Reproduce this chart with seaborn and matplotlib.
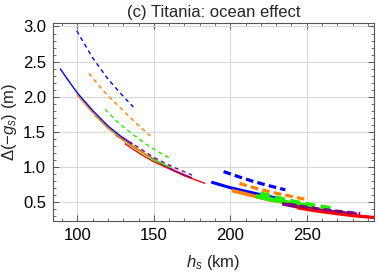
import numpy as np
import pandas as pd
import seaborn as sns
import matplotlib
matplotlib.use("Agg")
import matplotlib.pyplot as plt
from matplotlib.ticker import MultipleLocator

# ---------------- data ----------------
# left group (thin lines)
blue_solid_L_h = [88.6, 95, 100, 110, 120, 128, 136]
blue_solid_L_y = [2.40, 2.20, 2.05, 1.80, 1.58, 1.44, 1.32]
orange_solid_L_h = [99.5, 110, 120, 130, 140, 147.6]
orange_solid_L_y = [2.03, 1.77, 1.55, 1.38, 1.24, 1.14]
green_solid_L_h = [111.5, 120, 130, 140, 150, 160.7]
green_solid_L_y = [1.73, 1.55, 1.38, 1.23, 1.10, 0.99]
purple_solid_L_h = [125, 135, 145, 155, 165, 175]
purple_solid_L_y = [1.45, 1.31, 1.17, 1.04, 0.93, 0.84]
red_solid_L_h = [131, 135, 142, 150, 160, 170, 183.6]
red_solid_L_y = [1.33, 1.27, 1.17, 1.07, 0.97, 0.87, 0.76]

blue_dash_L_h = [99.5, 110, 120, 128, 136.6]
blue_dash_L_y = [2.94, 2.55, 2.25, 2.05, 1.85]
orange_dash_L_h = [107.5, 117, 127, 137, 147.6]
orange_dash_L_y = [2.33, 2.08, 1.86, 1.65, 1.44]
green_dash_L_h = [118, 126, 135, 145, 153, 160.7]
green_dash_L_y = [1.82, 1.64, 1.48, 1.32, 1.21, 1.12]
purple_dash_L_h = [129, 138, 150, 162, 175]
purple_dash_L_y = [1.42, 1.30, 1.13, 1.00, 0.88]

# right group (thick lines)
blue_solid_R_h = [187.5, 200, 212, 224, 235]
blue_solid_R_y = [0.78, 0.70, 0.64, 0.58, 0.53]
orange_solid_R_h = [201, 212, 225, 238, 250]
orange_solid_R_y = [0.66, 0.60, 0.53, 0.48, 0.44]
green_solid_R_h = [216.7, 225, 235, 245, 252]
green_solid_R_y = [0.58, 0.54, 0.50, 0.46, 0.44]
purple_solid_R_h = [234, 246, 258, 270, 283]
purple_solid_R_y = [0.47, 0.42, 0.38, 0.35, 0.32]
red_solid_R_h = [243.7, 256, 268, 281, 294]
red_solid_R_y = [0.415, 0.37, 0.335, 0.30, 0.275]

blue_dash_R_h = [195.6, 205, 215, 225, 236]
blue_dash_R_y = [0.93, 0.86, 0.79, 0.73, 0.67]
orange_dash_R_h = [206, 217, 228, 239, 250]
orange_dash_R_y = [0.76, 0.69, 0.63, 0.58, 0.53]
green_dash_R_h = [219.6, 230, 242, 254, 265.5]
green_dash_R_y = [0.62, 0.56, 0.50, 0.45, 0.41]
purple_dash_R_h = [238, 250, 262, 274, 285]
purple_dash_R_y = [0.465, 0.42, 0.385, 0.355, 0.33]

x_ticks = [100, 150, 200, 250]
y_ticks = [0.5, 1.0, 1.5, 2.0, 2.5, 3.0]
title = "(c) Titania: ocean effect"
xlabel = r"$h_s$ (km)"
ylabel = r"$\Delta(-g_s)$ (m)"

# ---------------- styling ----------------
sns.set_theme(style="white")
plt.rcParams["font.family"] = ["Liberation Sans", "DejaVu Sans"]
plt.rcParams["mathtext.fontset"] = "custom"
plt.rcParams["mathtext.rm"] = "Liberation Sans"
plt.rcParams["mathtext.it"] = "Liberation Sans:italic"
plt.rcParams["mathtext.bf"] = "Liberation Sans:bold"

C = {"blue": "#0000ff", "orange": "#ff8000", "green": "#22ee00",
     "purple": "#800080", "red": "#ff0000"}

fig = plt.figure(figsize=(3.77, 2.73), dpi=100)
ax = fig.add_axes([0.1406, 0.1905, 0.8514, 0.7253])

def draw(h, y, color, dashed, lw, dash=None):
    df = pd.DataFrame({"h": h, "y": y})
    sns.lineplot(data=df, x="h", y="y", ax=ax, color=color, lw=lw,
                 estimator=None, sort=True, legend=False)
    line = ax.lines[-1]
    line.set_solid_capstyle("butt")
    if dashed:
        line.set_linestyle((0, dash))
        line.set_dash_capstyle("butt")

# left thin lines
thin = 1.0
draw(red_solid_L_h, red_solid_L_y, C["red"], False, thin)
draw(purple_solid_L_h, purple_solid_L_y, C["purple"], False, thin)
draw(green_solid_L_h, green_solid_L_y, C["green"], False, thin)
draw(orange_solid_L_h, orange_solid_L_y, C["orange"], False, thin)
draw(blue_solid_L_h, blue_solid_L_y, C["blue"], False, thin)
dl = (3, 2.5)
draw(blue_dash_L_h, blue_dash_L_y, C["blue"], True, thin, dl)
draw(orange_dash_L_h, orange_dash_L_y, C["orange"], True, thin, dl)
draw(green_dash_L_h, green_dash_L_y, C["green"], True, thin, dl)
draw(purple_dash_L_h, purple_dash_L_y, C["purple"], True, thin, dl)

# right thick lines
draw(blue_solid_R_h, blue_solid_R_y, C["blue"], False, 2.2)
draw(orange_solid_R_h, orange_solid_R_y, C["orange"], False, 2.6)
draw(green_solid_R_h, green_solid_R_y, C["green"], False, 3.2)
draw(purple_solid_R_h, purple_solid_R_y, C["purple"], False, 2.6)
draw(red_solid_R_h, red_solid_R_y, C["red"], False, 2.4)
dr = (2.4, 1.3)
draw(blue_dash_R_h, blue_dash_R_y, C["blue"], True, 2.3, dr)
draw(orange_dash_R_h, orange_dash_R_y, C["orange"], True, 2.3, dr)
draw(green_dash_R_h, green_dash_R_y, C["green"], True, 3.0, dr)
draw(purple_dash_R_h, purple_dash_R_y, C["purple"], True, 2.3, dr)

ax.set_xlim(84, 294)
ax.set_ylim(0.225, 3.05)
ax.set_xticks(x_ticks)
ax.set_yticks(y_ticks)
ax.set_yticklabels([f"{v:.1f}" for v in y_ticks])
ax.xaxis.set_minor_locator(MultipleLocator(10))
ax.yaxis.set_minor_locator(MultipleLocator(0.1))
ax.grid(True, which="major", color="#d9d9d9", lw=0.8)
ax.set_axisbelow(True)
for s in ax.spines.values():
    s.set_color("#555555")
    s.set_linewidth(0.8)
ax.tick_params(which="both", direction="in", bottom=True, left=True,
               top=True, right=True,
               colors="#555555", labelcolor="black", labelsize=12)
ax.tick_params(which="major", length=4, width=0.7, pad=5)
ax.tick_params(which="minor", length=2.2, width=0.6)

ax.set_title(title, fontsize=12, pad=4)
ax.set_xlabel(xlabel, fontsize=12, labelpad=7)
ax.set_ylabel(ylabel, fontsize=12, labelpad=3)

fig.savefig("out.png", dpi=100)
